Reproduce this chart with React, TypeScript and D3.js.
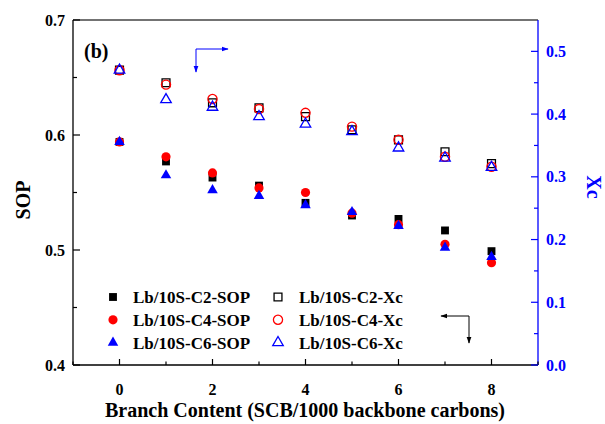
import React from 'react';
import * as d3 from 'd3';

// branch content (SCB/1000 backbone carbons)
const branch = [0, 1, 2, 3, 4, 5, 6, 7, 8];

// SOP, left axis
const sopC2 = [0.594, 0.577, 0.563, 0.556, 0.541, 0.530, 0.527, 0.517, 0.499];
const sopC4 = [0.594, 0.581, 0.567, 0.554, 0.550, 0.532, 0.522, 0.505, 0.489];
const sopC6 = [0.594, 0.565, 0.552, 0.547, 0.539, 0.533, 0.521, 0.502, 0.494];

// Xc, right axis
const xcC2 = [0.470, 0.450, 0.418, 0.410, 0.396, 0.375, 0.359, 0.340, 0.321];
const xcC4 = [0.470, 0.447, 0.424, 0.408, 0.402, 0.380, 0.359, 0.332, 0.316];
const xcC6 = [0.470, 0.423, 0.411, 0.396, 0.384, 0.372, 0.346, 0.330, 0.315];

const xTicks = [0, 2, 4, 6, 8];
const sopTicks = [0.4, 0.5, 0.6, 0.7];
const xcTicks = [0.0, 0.1, 0.2, 0.3, 0.4, 0.5];

const legendLeft = ['Lb/10S-C2-SOP', 'Lb/10S-C4-SOP', 'Lb/10S-C6-SOP'];
const legendRight = ['Lb/10S-C2-Xc', 'Lb/10S-C4-Xc', 'Lb/10S-C6-Xc'];

const BLUE = '#0000ff';
const FONT = '"Liberation Serif", "Times New Roman", serif';

const App = () => {
  const W = 605;
  const H = 424;
  const left = 73, right = 538, top = 20, bottom = 365;

  const x = d3.scaleLinear().domain([-1, 9]).range([left, right]);
  const ySop = d3.scaleLinear().domain([0.4, 0.7]).range([bottom, top]);
  const yXc = d3.scaleLinear().domain([0, 0.55]).range([bottom, top]);

  const sq = d3.symbol().type(d3.symbolSquare).size(62)();
  const circ = d3.symbol().type(d3.symbolCircle).size(66)();
  const tri = d3.symbol().type(d3.symbolTriangle).size(48)();

  const series = [
    { vals: sopC2, scale: ySop, shape: sq, color: '#000', fill: true },
    { vals: sopC4, scale: ySop, shape: circ, color: '#ff0000', fill: true },
    { vals: sopC6, scale: ySop, shape: tri, color: BLUE, fill: true },
    { vals: xcC2, scale: yXc, shape: sq, color: '#000', fill: false },
    { vals: xcC4, scale: yXc, shape: circ, color: '#ff0000', fill: false },
    { vals: xcC6, scale: yXc, shape: tri, color: BLUE, fill: false },
  ];

  const xMinor = d3.range(-1, 9.01, 1).filter(d => d % 2 !== 0);
  const sopMinor = [0.45, 0.55, 0.65];
  const xcMinor = [0.05, 0.15, 0.25, 0.35, 0.45];

  const markerEl = (s, key, cx, cy) => (
    <path
      key={key}
      d={s.shape}
      transform={`translate(${cx},${cy})`}
      fill={s.fill ? s.color : 'none'}
      stroke={s.color}
      strokeWidth={s.fill ? 0 : 1.3}
    />
  );

  return (
    <svg width={W} height={H} style={{ position: 'absolute', left: 0, top: 0 }} fontFamily={FONT} fontWeight="bold">
      <defs>
        <marker id="ahBlue" viewBox="0 0 10 10" refX="9" refY="5" markerWidth="7" markerHeight="7" orient="auto">
          <path d="M0,1.5 L10,5 L0,8.5 Z" fill={BLUE} />
        </marker>
        <marker id="ahBlack" viewBox="0 0 10 10" refX="9" refY="5" markerWidth="7" markerHeight="7" orient="auto">
          <path d="M0,1.5 L10,5 L0,8.5 Z" fill="#000" />
        </marker>
      </defs>
      <rect width={W} height={H} fill="#fff" />

      {/* frame */}
      <line x1={left} x2={right} y1={top} y2={top} stroke="#444" strokeWidth={1.3} />
      <line x1={left} x2={left} y1={top} y2={bottom} stroke="#000" strokeWidth={1.3} />
      <line x1={left} x2={right} y1={bottom} y2={bottom} stroke="#000" strokeWidth={1.3} />
      <line x1={right} x2={right} y1={top} y2={bottom} stroke={BLUE} strokeWidth={1.3} />

      {/* bottom axis */}
      {xTicks.map(t => (
        <g key={'xt' + t}>
          <line x1={x(t)} x2={x(t)} y1={bottom} y2={bottom - 6} stroke="#000" strokeWidth={1.2} />
          <text x={x(t)} y={395} textAnchor="middle" fontSize={16}>{t}</text>
        </g>
      ))}
      {xMinor.map(t => (
        <line key={'xm' + t} x1={x(t)} x2={x(t)} y1={bottom} y2={bottom - 3.5} stroke="#000" strokeWidth={1.2} />
      ))}

      {/* left axis */}
      {sopTicks.map(t => (
        <g key={'yt' + t}>
          <line x1={left} x2={left + 7} y1={ySop(t)} y2={ySop(t)} stroke="#000" strokeWidth={1.2} />
          <text x={left - 8} y={ySop(t) + 5.5} textAnchor="end" fontSize={16}>{t.toFixed(1)}</text>
        </g>
      ))}
      {sopMinor.map(t => (
        <line key={'ym' + t} x1={left} x2={left + 4} y1={ySop(t)} y2={ySop(t)} stroke="#000" strokeWidth={1.2} />
      ))}

      {/* right axis */}
      {xcTicks.map(t => (
        <g key={'rt' + t}>
          <line x1={right} x2={right - 7} y1={yXc(t)} y2={yXc(t)} stroke={BLUE} strokeWidth={1.2} />
          <text x={right + 8} y={yXc(t) + 5.5} fontSize={16} fill={BLUE}>{t.toFixed(1)}</text>
        </g>
      ))}
      {xcMinor.map(t => (
        <line key={'rm' + t} x1={right} x2={right - 4} y1={yXc(t)} y2={yXc(t)} stroke={BLUE} strokeWidth={1.2} />
      ))}

      {/* axis titles */}
      <text x={305} y={417} textAnchor="middle" fontSize={20}>Branch Content (SCB/1000 backbone carbons)</text>
      <text transform="translate(30,200) rotate(-90)" textAnchor="middle" fontSize={20}>SOP</text>
      <text transform="translate(587,187) rotate(90)" textAnchor="middle" fontSize={20} fill={BLUE}>Xc</text>

      <text x={84} y={58} fontSize={20}>(b)</text>

      {/* data */}
      {series.map((s, si) => (
        <g key={'s' + si}>
          {branch.map((b, i) => markerEl(s, i, x(b), s.scale(s.vals[i])))}
        </g>
      ))}

      {/* direction arrows */}
      <path d="M196,49 L196,72" stroke={BLUE} strokeWidth={1} fill="none" markerEnd="url(#ahBlue)" />
      <path d="M196,49 L228,49" stroke={BLUE} strokeWidth={1} fill="none" markerEnd="url(#ahBlue)" />
      <path d="M469,316 L441,316" stroke="#000" strokeWidth={1} fill="none" markerEnd="url(#ahBlack)" />
      <path d="M469,316 L469,343" stroke="#000" strokeWidth={1} fill="none" markerEnd="url(#ahBlack)" />

      {/* legend */}
      {legendLeft.map((lab, i) => (
        <g key={'ll' + i}>
          {markerEl(series[i], 'm', 113, 297 + i * 22.8)}
          <text x={133} y={297 + i * 22.8 + 6} fontSize={17}>{lab}</text>
        </g>
      ))}
      {legendRight.map((lab, i) => (
        <g key={'lr' + i}>
          {markerEl(series[i + 3], 'm', 278, 297 + i * 22.8)}
          <text x={299} y={297 + i * 22.8 + 6} fontSize={17}>{lab}</text>
        </g>
      ))}
    </svg>
  );
};

export default App;
